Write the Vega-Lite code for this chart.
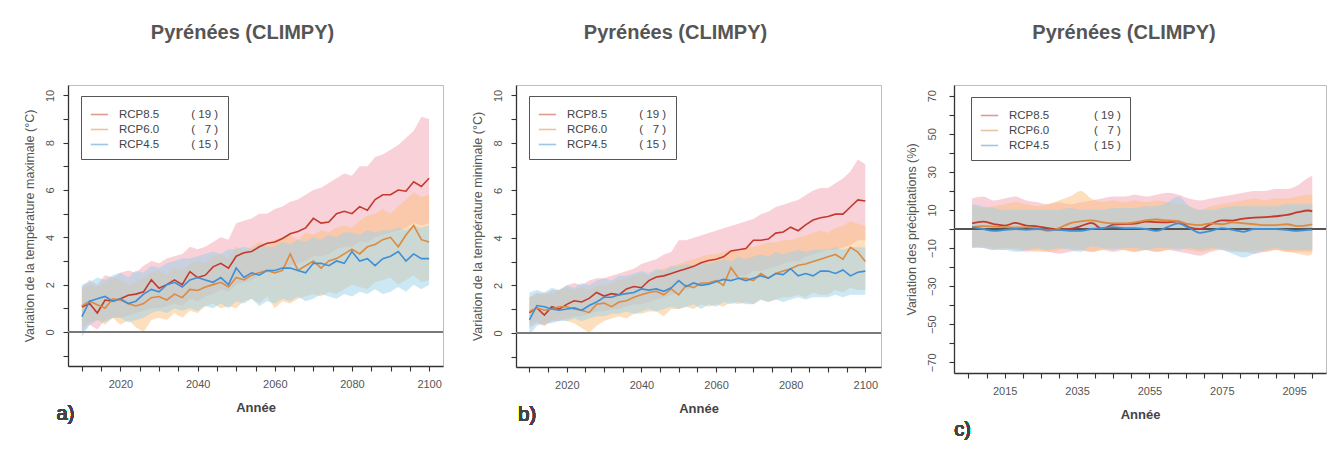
{
  "$schema": "https://vega.github.io/schema/vega-lite/v6.json",
  "background": "white",
  "padding": {"left": 22, "top": 22, "right": 5, "bottom": 5},
  "spacing": 73,
  "bounds": "flush",
  "resolve": {"scale": {"color": "independent", "fill": "independent"}, "legend": {"color": "independent", "fill": "independent"}},
  "config": {
    "font": "Liberation Sans",
    "view": {"stroke": "#bdbdbd", "strokeWidth": 1},
    "axis": {"grid": false, "tickCount": 100, "domainColor": "#333", "domainWidth": 1.3, "tickColor": "#333", "tickWidth": 1.1, "tickSize": 5, "labelColor": "#555", "labelFontSize": 11, "labelFont": "Liberation Sans", "titleColor": "#555", "titleFont": "Liberation Sans", "labelOverlap": false, "labelFlush": false},
    "axisX": {"labelPadding": 7, "titleFontSize": 13, "titleFontWeight": "bold", "titleColor": "#444", "titlePadding": 12},
    "axisY": {"titleFontSize": 12.5, "titleFontWeight": "normal", "titlePadding": 8},
    "title": {"fontSize": 20, "fontWeight": "bold", "color": "#555", "anchor": "middle", "frame": "group", "offset": 42},
    "legend": {"strokeColor": "#555", "fillColor": "white", "padding": 9, "symbolType": "stroke", "symbolSize": 300, "symbolStrokeWidth": 1.6, "labelFontSize": 11.5, "labelColor": "#444", "rowPadding": -2, "labelOffset": 10, "labelLimit": 300}
  },
  "datasets": {
    "a": [
      {"year":2010,"s":"RCP8.5","m":1.05,"lo":0.0,"hi":1.9},{"year":2012,"s":"RCP8.5","m":1.2,"lo":0.3,"hi":2.2},{"year":2014,"s":"RCP8.5","m":0.8,"lo":0.1,"hi":2.0},{"year":2016,"s":"RCP8.5","m":1.35,"lo":0.5,"hi":2.4},{"year":2018,"s":"RCP8.5","m":1.3,"lo":0.6,"hi":2.3},{"year":2020,"s":"RCP8.5","m":1.4,"lo":0.6,"hi":2.5},{"year":2022,"s":"RCP8.5","m":1.55,"lo":0.7,"hi":2.6},{"year":2024,"s":"RCP8.5","m":1.6,"lo":0.8,"hi":2.5},{"year":2026,"s":"RCP8.5","m":1.7,"lo":0.9,"hi":2.8},{"year":2028,"s":"RCP8.5","m":2.2,"lo":1.0,"hi":3.0},{"year":2030,"s":"RCP8.5","m":1.85,"lo":1.0,"hi":2.9},{"year":2032,"s":"RCP8.5","m":2.0,"lo":1.1,"hi":3.1},{"year":2034,"s":"RCP8.5","m":2.2,"lo":1.2,"hi":3.2},{"year":2036,"s":"RCP8.5","m":2.0,"lo":1.1,"hi":3.3},{"year":2038,"s":"RCP8.5","m":2.55,"lo":1.4,"hi":3.6},{"year":2040,"s":"RCP8.5","m":2.3,"lo":1.3,"hi":3.5},{"year":2042,"s":"RCP8.5","m":2.4,"lo":1.5,"hi":3.6},{"year":2044,"s":"RCP8.5","m":2.75,"lo":1.6,"hi":3.8},{"year":2046,"s":"RCP8.5","m":2.9,"lo":1.8,"hi":4.0},{"year":2048,"s":"RCP8.5","m":2.7,"lo":1.7,"hi":3.9},{"year":2050,"s":"RCP8.5","m":3.2,"lo":2.0,"hi":4.6},{"year":2052,"s":"RCP8.5","m":3.35,"lo":2.1,"hi":4.7},{"year":2054,"s":"RCP8.5","m":3.4,"lo":2.2,"hi":4.8},{"year":2056,"s":"RCP8.5","m":3.6,"lo":2.4,"hi":5.0},{"year":2058,"s":"RCP8.5","m":3.75,"lo":2.5,"hi":5.0},{"year":2060,"s":"RCP8.5","m":3.8,"lo":2.6,"hi":5.2},{"year":2062,"s":"RCP8.5","m":3.95,"lo":2.6,"hi":5.3},{"year":2064,"s":"RCP8.5","m":4.15,"lo":2.8,"hi":5.5},{"year":2066,"s":"RCP8.5","m":4.25,"lo":2.9,"hi":5.6},{"year":2068,"s":"RCP8.5","m":4.4,"lo":3.0,"hi":5.8},{"year":2070,"s":"RCP8.5","m":4.8,"lo":3.2,"hi":6.0},{"year":2072,"s":"RCP8.5","m":4.6,"lo":3.2,"hi":6.1},{"year":2074,"s":"RCP8.5","m":4.65,"lo":3.3,"hi":6.3},{"year":2076,"s":"RCP8.5","m":5.0,"lo":3.5,"hi":6.5},{"year":2078,"s":"RCP8.5","m":5.1,"lo":3.6,"hi":6.7},{"year":2080,"s":"RCP8.5","m":5.0,"lo":3.6,"hi":6.6},{"year":2082,"s":"RCP8.5","m":5.3,"lo":3.8,"hi":7.0},{"year":2084,"s":"RCP8.5","m":5.15,"lo":3.8,"hi":7.0},{"year":2086,"s":"RCP8.5","m":5.6,"lo":4.0,"hi":7.4},{"year":2088,"s":"RCP8.5","m":5.8,"lo":4.1,"hi":7.5},{"year":2090,"s":"RCP8.5","m":5.8,"lo":4.2,"hi":7.7},{"year":2092,"s":"RCP8.5","m":6.0,"lo":4.3,"hi":7.9},{"year":2094,"s":"RCP8.5","m":5.95,"lo":4.4,"hi":8.2},{"year":2096,"s":"RCP8.5","m":6.35,"lo":4.6,"hi":8.5},{"year":2098,"s":"RCP8.5","m":6.15,"lo":4.5,"hi":9.1},{"year":2100,"s":"RCP8.5","m":6.5,"lo":4.6,"hi":9.0},
      {"year":2010,"s":"RCP6.0","m":1.1,"lo":0.2,"hi":1.8},{"year":2012,"s":"RCP6.0","m":1.3,"lo":0.4,"hi":2.0},{"year":2014,"s":"RCP6.0","m":1.15,"lo":0.5,"hi":1.9},{"year":2016,"s":"RCP6.0","m":1.0,"lo":0.3,"hi":2.1},{"year":2018,"s":"RCP6.0","m":1.4,"lo":0.6,"hi":2.3},{"year":2020,"s":"RCP6.0","m":1.35,"lo":0.3,"hi":2.2},{"year":2022,"s":"RCP6.0","m":1.2,"lo":0.5,"hi":2.0},{"year":2024,"s":"RCP6.0","m":1.1,"lo":0.2,"hi":2.1},{"year":2026,"s":"RCP6.0","m":1.2,"lo":0.0,"hi":2.3},{"year":2028,"s":"RCP6.0","m":1.45,"lo":0.5,"hi":2.5},{"year":2030,"s":"RCP6.0","m":1.5,"lo":0.6,"hi":2.6},{"year":2032,"s":"RCP6.0","m":1.35,"lo":0.5,"hi":2.4},{"year":2034,"s":"RCP6.0","m":1.6,"lo":0.8,"hi":2.7},{"year":2036,"s":"RCP6.0","m":1.45,"lo":0.6,"hi":2.6},{"year":2038,"s":"RCP6.0","m":1.8,"lo":0.9,"hi":2.9},{"year":2040,"s":"RCP6.0","m":1.75,"lo":0.8,"hi":3.0},{"year":2042,"s":"RCP6.0","m":1.9,"lo":1.1,"hi":2.9},{"year":2044,"s":"RCP6.0","m":2.0,"lo":1.2,"hi":3.2},{"year":2046,"s":"RCP6.0","m":2.1,"lo":1.0,"hi":3.3},{"year":2048,"s":"RCP6.0","m":1.9,"lo":1.1,"hi":3.1},{"year":2050,"s":"RCP6.0","m":2.3,"lo":1.0,"hi":3.6},{"year":2052,"s":"RCP6.0","m":2.2,"lo":1.3,"hi":3.4},{"year":2054,"s":"RCP6.0","m":2.4,"lo":1.4,"hi":3.6},{"year":2056,"s":"RCP6.0","m":2.5,"lo":1.2,"hi":3.8},{"year":2058,"s":"RCP6.0","m":2.6,"lo":1.5,"hi":3.7},{"year":2060,"s":"RCP6.0","m":2.5,"lo":1.0,"hi":3.9},{"year":2062,"s":"RCP6.0","m":2.6,"lo":1.3,"hi":4.0},{"year":2064,"s":"RCP6.0","m":3.3,"lo":1.2,"hi":4.1},{"year":2066,"s":"RCP6.0","m":2.6,"lo":1.4,"hi":3.9},{"year":2068,"s":"RCP6.0","m":2.8,"lo":1.5,"hi":4.2},{"year":2070,"s":"RCP6.0","m":3.0,"lo":1.6,"hi":4.1},{"year":2072,"s":"RCP6.0","m":2.7,"lo":1.5,"hi":4.3},{"year":2074,"s":"RCP6.0","m":3.0,"lo":1.7,"hi":4.2},{"year":2076,"s":"RCP6.0","m":3.1,"lo":1.6,"hi":4.4},{"year":2078,"s":"RCP6.0","m":3.3,"lo":1.8,"hi":4.5},{"year":2080,"s":"RCP6.0","m":3.5,"lo":2.0,"hi":4.4},{"year":2082,"s":"RCP6.0","m":3.3,"lo":1.9,"hi":4.7},{"year":2084,"s":"RCP6.0","m":3.6,"lo":1.8,"hi":4.9},{"year":2086,"s":"RCP6.0","m":3.7,"lo":2.1,"hi":5.0},{"year":2088,"s":"RCP6.0","m":3.9,"lo":2.2,"hi":5.2},{"year":2090,"s":"RCP6.0","m":4.0,"lo":2.3,"hi":5.0},{"year":2092,"s":"RCP6.0","m":3.6,"lo":2.0,"hi":5.3},{"year":2094,"s":"RCP6.0","m":4.1,"lo":2.2,"hi":5.6},{"year":2096,"s":"RCP6.0","m":4.5,"lo":2.4,"hi":5.9},{"year":2098,"s":"RCP6.0","m":3.9,"lo":2.1,"hi":5.7},{"year":2100,"s":"RCP6.0","m":3.8,"lo":2.2,"hi":5.8},
      {"year":2010,"s":"RCP4.5","m":0.65,"lo":-0.2,"hi":2.0},{"year":2012,"s":"RCP4.5","m":1.3,"lo":0.3,"hi":2.1},{"year":2014,"s":"RCP4.5","m":1.4,"lo":0.5,"hi":2.3},{"year":2016,"s":"RCP4.5","m":1.5,"lo":0.4,"hi":2.2},{"year":2018,"s":"RCP4.5","m":1.3,"lo":0.6,"hi":2.4},{"year":2020,"s":"RCP4.5","m":1.4,"lo":0.6,"hi":2.5},{"year":2022,"s":"RCP4.5","m":1.2,"lo":0.4,"hi":2.3},{"year":2024,"s":"RCP4.5","m":1.3,"lo":0.5,"hi":2.6},{"year":2026,"s":"RCP4.5","m":1.6,"lo":0.6,"hi":2.5},{"year":2028,"s":"RCP4.5","m":1.8,"lo":0.8,"hi":2.8},{"year":2030,"s":"RCP4.5","m":1.7,"lo":0.9,"hi":2.7},{"year":2032,"s":"RCP4.5","m":2.0,"lo":0.8,"hi":2.9},{"year":2034,"s":"RCP4.5","m":2.1,"lo":1.0,"hi":3.0},{"year":2036,"s":"RCP4.5","m":1.9,"lo":0.9,"hi":3.1},{"year":2038,"s":"RCP4.5","m":2.2,"lo":1.0,"hi":3.1},{"year":2040,"s":"RCP4.5","m":2.3,"lo":0.9,"hi":3.2},{"year":2042,"s":"RCP4.5","m":2.2,"lo":1.1,"hi":3.3},{"year":2044,"s":"RCP4.5","m":2.1,"lo":1.0,"hi":3.4},{"year":2046,"s":"RCP4.5","m":2.3,"lo":1.2,"hi":3.3},{"year":2048,"s":"RCP4.5","m":2.0,"lo":1.0,"hi":3.5},{"year":2050,"s":"RCP4.5","m":2.7,"lo":1.3,"hi":3.5},{"year":2052,"s":"RCP4.5","m":2.3,"lo":1.2,"hi":3.6},{"year":2054,"s":"RCP4.5","m":2.5,"lo":1.4,"hi":3.5},{"year":2056,"s":"RCP4.5","m":2.4,"lo":1.1,"hi":3.7},{"year":2058,"s":"RCP4.5","m":2.6,"lo":1.3,"hi":3.6},{"year":2060,"s":"RCP4.5","m":2.6,"lo":1.2,"hi":3.6},{"year":2062,"s":"RCP4.5","m":2.7,"lo":1.4,"hi":3.8},{"year":2064,"s":"RCP4.5","m":2.7,"lo":1.3,"hi":3.7},{"year":2066,"s":"RCP4.5","m":2.6,"lo":1.5,"hi":3.9},{"year":2068,"s":"RCP4.5","m":2.5,"lo":1.3,"hi":3.8},{"year":2070,"s":"RCP4.5","m":2.9,"lo":1.4,"hi":4.0},{"year":2072,"s":"RCP4.5","m":2.9,"lo":1.6,"hi":3.9},{"year":2074,"s":"RCP4.5","m":2.8,"lo":1.5,"hi":4.1},{"year":2076,"s":"RCP4.5","m":3.0,"lo":1.4,"hi":4.0},{"year":2078,"s":"RCP4.5","m":2.9,"lo":1.6,"hi":4.2},{"year":2080,"s":"RCP4.5","m":3.4,"lo":1.5,"hi":4.2},{"year":2082,"s":"RCP4.5","m":3.0,"lo":1.7,"hi":4.1},{"year":2084,"s":"RCP4.5","m":3.1,"lo":1.6,"hi":4.3},{"year":2086,"s":"RCP4.5","m":2.8,"lo":1.8,"hi":4.2},{"year":2088,"s":"RCP4.5","m":3.1,"lo":1.6,"hi":4.3},{"year":2090,"s":"RCP4.5","m":3.2,"lo":1.7,"hi":4.3},{"year":2092,"s":"RCP4.5","m":3.4,"lo":1.9,"hi":4.4},{"year":2094,"s":"RCP4.5","m":3.0,"lo":1.7,"hi":4.3},{"year":2096,"s":"RCP4.5","m":3.3,"lo":2.0,"hi":4.5},{"year":2098,"s":"RCP4.5","m":3.1,"lo":1.8,"hi":4.4},{"year":2100,"s":"RCP4.5","m":3.1,"lo":2.0,"hi":4.5}
    ],
    "b": [
      {"year":2010,"s":"RCP8.5","m":0.85,"lo":0.2,"hi":1.5},{"year":2012,"s":"RCP8.5","m":1.05,"lo":0.4,"hi":1.7},{"year":2014,"s":"RCP8.5","m":0.75,"lo":0.3,"hi":1.6},{"year":2016,"s":"RCP8.5","m":1.1,"lo":0.5,"hi":1.8},{"year":2018,"s":"RCP8.5","m":1.0,"lo":0.5,"hi":1.8},{"year":2020,"s":"RCP8.5","m":1.2,"lo":0.6,"hi":2.0},{"year":2022,"s":"RCP8.5","m":1.35,"lo":0.7,"hi":2.1},{"year":2024,"s":"RCP8.5","m":1.3,"lo":0.7,"hi":2.0},{"year":2026,"s":"RCP8.5","m":1.45,"lo":0.8,"hi":2.2},{"year":2028,"s":"RCP8.5","m":1.7,"lo":0.9,"hi":2.3},{"year":2030,"s":"RCP8.5","m":1.55,"lo":0.9,"hi":2.3},{"year":2032,"s":"RCP8.5","m":1.65,"lo":1.0,"hi":2.4},{"year":2034,"s":"RCP8.5","m":1.6,"lo":1.0,"hi":2.5},{"year":2036,"s":"RCP8.5","m":1.85,"lo":1.1,"hi":2.6},{"year":2038,"s":"RCP8.5","m":1.95,"lo":1.2,"hi":2.7},{"year":2040,"s":"RCP8.5","m":1.9,"lo":1.2,"hi":2.9},{"year":2042,"s":"RCP8.5","m":2.2,"lo":1.3,"hi":3.0},{"year":2044,"s":"RCP8.5","m":2.35,"lo":1.4,"hi":3.1},{"year":2046,"s":"RCP8.5","m":2.4,"lo":1.5,"hi":3.3},{"year":2048,"s":"RCP8.5","m":2.5,"lo":1.6,"hi":3.4},{"year":2050,"s":"RCP8.5","m":2.6,"lo":1.7,"hi":3.9},{"year":2052,"s":"RCP8.5","m":2.7,"lo":1.8,"hi":3.9},{"year":2054,"s":"RCP8.5","m":2.8,"lo":1.9,"hi":4.0},{"year":2056,"s":"RCP8.5","m":2.95,"lo":2.0,"hi":4.1},{"year":2058,"s":"RCP8.5","m":3.05,"lo":2.0,"hi":4.2},{"year":2060,"s":"RCP8.5","m":3.1,"lo":2.1,"hi":4.3},{"year":2062,"s":"RCP8.5","m":3.2,"lo":2.2,"hi":4.4},{"year":2064,"s":"RCP8.5","m":3.45,"lo":2.3,"hi":4.5},{"year":2066,"s":"RCP8.5","m":3.5,"lo":2.4,"hi":4.6},{"year":2068,"s":"RCP8.5","m":3.55,"lo":2.4,"hi":4.7},{"year":2070,"s":"RCP8.5","m":3.9,"lo":2.6,"hi":4.8},{"year":2072,"s":"RCP8.5","m":3.9,"lo":2.6,"hi":5.0},{"year":2074,"s":"RCP8.5","m":3.95,"lo":2.7,"hi":5.1},{"year":2076,"s":"RCP8.5","m":4.2,"lo":2.8,"hi":5.3},{"year":2078,"s":"RCP8.5","m":4.25,"lo":2.9,"hi":5.4},{"year":2080,"s":"RCP8.5","m":4.45,"lo":3.0,"hi":5.5},{"year":2082,"s":"RCP8.5","m":4.3,"lo":3.0,"hi":5.6},{"year":2084,"s":"RCP8.5","m":4.55,"lo":3.2,"hi":5.8},{"year":2086,"s":"RCP8.5","m":4.75,"lo":3.3,"hi":6.0},{"year":2088,"s":"RCP8.5","m":4.85,"lo":3.4,"hi":6.1},{"year":2090,"s":"RCP8.5","m":4.9,"lo":3.5,"hi":6.1},{"year":2092,"s":"RCP8.5","m":5.0,"lo":3.5,"hi":6.3},{"year":2094,"s":"RCP8.5","m":5.0,"lo":3.6,"hi":6.5},{"year":2096,"s":"RCP8.5","m":5.3,"lo":3.7,"hi":6.8},{"year":2098,"s":"RCP8.5","m":5.6,"lo":3.9,"hi":7.3},{"year":2100,"s":"RCP8.5","m":5.55,"lo":3.9,"hi":7.1},
      {"year":2010,"s":"RCP6.0","m":0.9,"lo":0.4,"hi":1.5},{"year":2012,"s":"RCP6.0","m":1.05,"lo":0.5,"hi":1.6},{"year":2014,"s":"RCP6.0","m":0.95,"lo":0.3,"hi":1.7},{"year":2016,"s":"RCP6.0","m":1.0,"lo":0.5,"hi":1.6},{"year":2018,"s":"RCP6.0","m":1.1,"lo":0.6,"hi":1.8},{"year":2020,"s":"RCP6.0","m":1.1,"lo":0.5,"hi":1.9},{"year":2022,"s":"RCP6.0","m":1.0,"lo":0.4,"hi":1.8},{"year":2024,"s":"RCP6.0","m":0.95,"lo":0.2,"hi":1.9},{"year":2026,"s":"RCP6.0","m":0.85,"lo":0.0,"hi":1.8},{"year":2028,"s":"RCP6.0","m":1.2,"lo":0.3,"hi":2.0},{"year":2030,"s":"RCP6.0","m":1.25,"lo":0.5,"hi":2.0},{"year":2032,"s":"RCP6.0","m":1.1,"lo":0.6,"hi":2.1},{"year":2034,"s":"RCP6.0","m":1.3,"lo":0.7,"hi":2.2},{"year":2036,"s":"RCP6.0","m":1.35,"lo":0.6,"hi":2.3},{"year":2038,"s":"RCP6.0","m":1.5,"lo":0.8,"hi":2.4},{"year":2040,"s":"RCP6.0","m":1.6,"lo":0.8,"hi":2.5},{"year":2042,"s":"RCP6.0","m":1.7,"lo":0.9,"hi":2.4},{"year":2044,"s":"RCP6.0","m":1.75,"lo":0.9,"hi":2.6},{"year":2046,"s":"RCP6.0","m":1.6,"lo":0.7,"hi":2.7},{"year":2048,"s":"RCP6.0","m":1.85,"lo":1.0,"hi":2.8},{"year":2050,"s":"RCP6.0","m":1.6,"lo":1.0,"hi":2.9},{"year":2052,"s":"RCP6.0","m":2.0,"lo":1.1,"hi":3.0},{"year":2054,"s":"RCP6.0","m":1.9,"lo":1.0,"hi":3.1},{"year":2056,"s":"RCP6.0","m":2.1,"lo":1.2,"hi":3.2},{"year":2058,"s":"RCP6.0","m":2.1,"lo":1.1,"hi":3.3},{"year":2060,"s":"RCP6.0","m":2.2,"lo":1.2,"hi":3.3},{"year":2062,"s":"RCP6.0","m":2.0,"lo":1.1,"hi":3.4},{"year":2064,"s":"RCP6.0","m":2.75,"lo":1.3,"hi":3.5},{"year":2066,"s":"RCP6.0","m":2.3,"lo":1.2,"hi":3.4},{"year":2068,"s":"RCP6.0","m":2.3,"lo":1.3,"hi":3.6},{"year":2070,"s":"RCP6.0","m":2.2,"lo":1.2,"hi":3.6},{"year":2072,"s":"RCP6.0","m":2.5,"lo":1.4,"hi":3.7},{"year":2074,"s":"RCP6.0","m":2.3,"lo":1.3,"hi":3.8},{"year":2076,"s":"RCP6.0","m":2.5,"lo":1.4,"hi":3.8},{"year":2078,"s":"RCP6.0","m":2.6,"lo":1.5,"hi":3.9},{"year":2080,"s":"RCP6.0","m":2.7,"lo":1.5,"hi":3.9},{"year":2082,"s":"RCP6.0","m":2.85,"lo":1.6,"hi":4.0},{"year":2084,"s":"RCP6.0","m":2.9,"lo":1.5,"hi":4.1},{"year":2086,"s":"RCP6.0","m":3.0,"lo":1.7,"hi":4.2},{"year":2088,"s":"RCP6.0","m":3.1,"lo":1.6,"hi":4.3},{"year":2090,"s":"RCP6.0","m":3.2,"lo":1.6,"hi":4.2},{"year":2092,"s":"RCP6.0","m":3.3,"lo":1.8,"hi":4.4},{"year":2094,"s":"RCP6.0","m":3.1,"lo":1.7,"hi":4.5},{"year":2096,"s":"RCP6.0","m":3.6,"lo":1.9,"hi":4.7},{"year":2098,"s":"RCP6.0","m":3.4,"lo":1.8,"hi":4.6},{"year":2100,"s":"RCP6.0","m":3.0,"lo":1.8,"hi":4.5},
      {"year":2010,"s":"RCP4.5","m":0.55,"lo":-0.1,"hi":1.7},{"year":2012,"s":"RCP4.5","m":1.15,"lo":0.3,"hi":1.8},{"year":2014,"s":"RCP4.5","m":1.1,"lo":0.4,"hi":1.7},{"year":2016,"s":"RCP4.5","m":1.0,"lo":0.4,"hi":1.9},{"year":2018,"s":"RCP4.5","m":0.95,"lo":0.5,"hi":1.8},{"year":2020,"s":"RCP4.5","m":1.0,"lo":0.5,"hi":2.0},{"year":2022,"s":"RCP4.5","m":1.05,"lo":0.6,"hi":1.9},{"year":2024,"s":"RCP4.5","m":0.95,"lo":0.5,"hi":2.1},{"year":2026,"s":"RCP4.5","m":1.15,"lo":0.6,"hi":2.0},{"year":2028,"s":"RCP4.5","m":1.3,"lo":0.7,"hi":2.2},{"year":2030,"s":"RCP4.5","m":1.5,"lo":0.7,"hi":2.3},{"year":2032,"s":"RCP4.5","m":1.5,"lo":0.8,"hi":2.2},{"year":2034,"s":"RCP4.5","m":1.6,"lo":0.8,"hi":2.4},{"year":2036,"s":"RCP4.5","m":1.65,"lo":0.9,"hi":2.4},{"year":2038,"s":"RCP4.5","m":1.7,"lo":0.8,"hi":2.5},{"year":2040,"s":"RCP4.5","m":1.85,"lo":0.9,"hi":2.6},{"year":2042,"s":"RCP4.5","m":1.8,"lo":1.0,"hi":2.5},{"year":2044,"s":"RCP4.5","m":1.85,"lo":0.9,"hi":2.7},{"year":2046,"s":"RCP4.5","m":1.75,"lo":1.0,"hi":2.6},{"year":2048,"s":"RCP4.5","m":1.9,"lo":1.1,"hi":2.8},{"year":2050,"s":"RCP4.5","m":2.2,"lo":1.0,"hi":2.8},{"year":2052,"s":"RCP4.5","m":1.95,"lo":1.1,"hi":2.9},{"year":2054,"s":"RCP4.5","m":2.1,"lo":1.2,"hi":2.8},{"year":2056,"s":"RCP4.5","m":2.0,"lo":1.0,"hi":3.0},{"year":2058,"s":"RCP4.5","m":2.05,"lo":1.2,"hi":2.9},{"year":2060,"s":"RCP4.5","m":2.15,"lo":1.1,"hi":3.0},{"year":2062,"s":"RCP4.5","m":2.25,"lo":1.3,"hi":3.1},{"year":2064,"s":"RCP4.5","m":2.2,"lo":1.2,"hi":3.0},{"year":2066,"s":"RCP4.5","m":2.3,"lo":1.3,"hi":3.2},{"year":2068,"s":"RCP4.5","m":2.2,"lo":1.2,"hi":3.1},{"year":2070,"s":"RCP4.5","m":2.3,"lo":1.2,"hi":3.2},{"year":2072,"s":"RCP4.5","m":2.4,"lo":1.4,"hi":3.3},{"year":2074,"s":"RCP4.5","m":2.3,"lo":1.3,"hi":3.2},{"year":2076,"s":"RCP4.5","m":2.5,"lo":1.4,"hi":3.4},{"year":2078,"s":"RCP4.5","m":2.45,"lo":1.3,"hi":3.3},{"year":2080,"s":"RCP4.5","m":2.7,"lo":1.4,"hi":3.4},{"year":2082,"s":"RCP4.5","m":2.4,"lo":1.5,"hi":3.5},{"year":2084,"s":"RCP4.5","m":2.5,"lo":1.4,"hi":3.4},{"year":2086,"s":"RCP4.5","m":2.4,"lo":1.5,"hi":3.5},{"year":2088,"s":"RCP4.5","m":2.6,"lo":1.5,"hi":3.5},{"year":2090,"s":"RCP4.5","m":2.6,"lo":1.5,"hi":3.5},{"year":2092,"s":"RCP4.5","m":2.5,"lo":1.6,"hi":3.6},{"year":2094,"s":"RCP4.5","m":2.65,"lo":1.5,"hi":3.5},{"year":2096,"s":"RCP4.5","m":2.4,"lo":1.6,"hi":3.6},{"year":2098,"s":"RCP4.5","m":2.55,"lo":1.6,"hi":3.6},{"year":2100,"s":"RCP4.5","m":2.6,"lo":1.6,"hi":3.6}
    ],
    "c": [
      {"year":2006,"s":"RCP8.5","m":3.0,"lo":-9,"hi":16},{"year":2009,"s":"RCP8.5","m":3.9,"lo":-10,"hi":17},{"year":2012,"s":"RCP8.5","m":2.6,"lo":-11,"hi":15},{"year":2015,"s":"RCP8.5","m":1.8,"lo":-10,"hi":16},{"year":2018,"s":"RCP8.5","m":3.2,"lo":-11,"hi":17},{"year":2021,"s":"RCP8.5","m":1.8,"lo":-12,"hi":15},{"year":2024,"s":"RCP8.5","m":1.4,"lo":-11,"hi":14},{"year":2027,"s":"RCP8.5","m":0.5,"lo":-12,"hi":13},{"year":2030,"s":"RCP8.5","m":-0.3,"lo":-13,"hi":14},{"year":2033,"s":"RCP8.5","m":0.0,"lo":-12,"hi":13},{"year":2036,"s":"RCP8.5","m":1.5,"lo":-11,"hi":14},{"year":2039,"s":"RCP8.5","m":3.2,"lo":-12,"hi":15},{"year":2042,"s":"RCP8.5","m":0.0,"lo":-11,"hi":16},{"year":2045,"s":"RCP8.5","m":2.3,"lo":-12,"hi":17},{"year":2048,"s":"RCP8.5","m":2.6,"lo":-11,"hi":17},{"year":2051,"s":"RCP8.5","m":2.8,"lo":-12,"hi":18},{"year":2054,"s":"RCP8.5","m":3.9,"lo":-11,"hi":17},{"year":2057,"s":"RCP8.5","m":3.6,"lo":-12,"hi":18},{"year":2060,"s":"RCP8.5","m":3.5,"lo":-11,"hi":19},{"year":2063,"s":"RCP8.5","m":4.0,"lo":-12,"hi":18},{"year":2066,"s":"RCP8.5","m":0.9,"lo":-13,"hi":16},{"year":2069,"s":"RCP8.5","m":0.0,"lo":-14,"hi":15},{"year":2072,"s":"RCP8.5","m":2.6,"lo":-12,"hi":16},{"year":2075,"s":"RCP8.5","m":4.5,"lo":-11,"hi":17},{"year":2078,"s":"RCP8.5","m":4.4,"lo":-12,"hi":18},{"year":2081,"s":"RCP8.5","m":5.5,"lo":-12,"hi":19},{"year":2084,"s":"RCP8.5","m":6.0,"lo":-13,"hi":20},{"year":2087,"s":"RCP8.5","m":6.2,"lo":-12,"hi":20},{"year":2090,"s":"RCP8.5","m":6.7,"lo":-11,"hi":21},{"year":2093,"s":"RCP8.5","m":7.4,"lo":-12,"hi":21},{"year":2096,"s":"RCP8.5","m":8.8,"lo":-12,"hi":23},{"year":2099,"s":"RCP8.5","m":9.7,"lo":-12,"hi":27},{"year":2100,"s":"RCP8.5","m":9.3,"lo":-12,"hi":28},
      {"year":2006,"s":"RCP6.0","m":1.0,"lo":-10,"hi":13},{"year":2009,"s":"RCP6.0","m":1.5,"lo":-9,"hi":11},{"year":2012,"s":"RCP6.0","m":1.2,"lo":-10,"hi":12},{"year":2015,"s":"RCP6.0","m":1.0,"lo":-11,"hi":13},{"year":2018,"s":"RCP6.0","m":0.8,"lo":-10,"hi":14},{"year":2021,"s":"RCP6.0","m":1.0,"lo":-11,"hi":13},{"year":2024,"s":"RCP6.0","m":0.5,"lo":-12,"hi":12},{"year":2027,"s":"RCP6.0","m":-1.0,"lo":-12,"hi":13},{"year":2030,"s":"RCP6.0","m":0.5,"lo":-11,"hi":15},{"year":2033,"s":"RCP6.0","m":3.0,"lo":-10,"hi":17},{"year":2036,"s":"RCP6.0","m":4.0,"lo":-11,"hi":20},{"year":2039,"s":"RCP6.0","m":4.5,"lo":-12,"hi":16},{"year":2042,"s":"RCP6.0","m":3.5,"lo":-11,"hi":14},{"year":2045,"s":"RCP6.0","m":3.0,"lo":-10,"hi":15},{"year":2048,"s":"RCP6.0","m":3.0,"lo":-11,"hi":14},{"year":2051,"s":"RCP6.0","m":3.5,"lo":-12,"hi":15},{"year":2054,"s":"RCP6.0","m":4.5,"lo":-11,"hi":14},{"year":2057,"s":"RCP6.0","m":5.0,"lo":-12,"hi":15},{"year":2060,"s":"RCP6.0","m":4.5,"lo":-11,"hi":14},{"year":2063,"s":"RCP6.0","m":4.0,"lo":-10,"hi":13},{"year":2066,"s":"RCP6.0","m":2.5,"lo":-11,"hi":12},{"year":2069,"s":"RCP6.0","m":2.0,"lo":-12,"hi":10},{"year":2072,"s":"RCP6.0","m":3.0,"lo":-11,"hi":12},{"year":2075,"s":"RCP6.0","m":2.5,"lo":-10,"hi":13},{"year":2078,"s":"RCP6.0","m":3.5,"lo":-11,"hi":14},{"year":2081,"s":"RCP6.0","m":3.0,"lo":-12,"hi":15},{"year":2084,"s":"RCP6.0","m":2.5,"lo":-11,"hi":16},{"year":2087,"s":"RCP6.0","m":2.0,"lo":-12,"hi":15},{"year":2090,"s":"RCP6.0","m":2.0,"lo":-11,"hi":16},{"year":2093,"s":"RCP6.0","m":2.5,"lo":-12,"hi":16},{"year":2096,"s":"RCP6.0","m":1.5,"lo":-13,"hi":17},{"year":2099,"s":"RCP6.0","m":2.0,"lo":-14,"hi":18},{"year":2100,"s":"RCP6.0","m":2.5,"lo":-13,"hi":18},
      {"year":2006,"s":"RCP4.5","m":1.0,"lo":-10,"hi":13},{"year":2009,"s":"RCP4.5","m":0.0,"lo":-10,"hi":12},{"year":2012,"s":"RCP4.5","m":-1.0,"lo":-11,"hi":11},{"year":2015,"s":"RCP4.5","m":-0.5,"lo":-11,"hi":10},{"year":2018,"s":"RCP4.5","m":0.0,"lo":-12,"hi":10},{"year":2021,"s":"RCP4.5","m":-0.5,"lo":-11,"hi":10},{"year":2024,"s":"RCP4.5","m":0.0,"lo":-10,"hi":10},{"year":2027,"s":"RCP4.5","m":-0.5,"lo":-11,"hi":10},{"year":2030,"s":"RCP4.5","m":-0.5,"lo":-10,"hi":10},{"year":2033,"s":"RCP4.5","m":-1.0,"lo":-11,"hi":11},{"year":2036,"s":"RCP4.5","m":-1.0,"lo":-12,"hi":10},{"year":2039,"s":"RCP4.5","m":0.0,"lo":-9,"hi":10},{"year":2042,"s":"RCP4.5","m":0.5,"lo":-10,"hi":10},{"year":2045,"s":"RCP4.5","m":1.0,"lo":-11,"hi":11},{"year":2048,"s":"RCP4.5","m":0.5,"lo":-10,"hi":11},{"year":2051,"s":"RCP4.5","m":0.5,"lo":-10,"hi":11},{"year":2054,"s":"RCP4.5","m":0.0,"lo":-11,"hi":12},{"year":2057,"s":"RCP4.5","m":-1.0,"lo":-10,"hi":12},{"year":2060,"s":"RCP4.5","m":1.0,"lo":-10,"hi":14},{"year":2063,"s":"RCP4.5","m":3.0,"lo":-11,"hi":17},{"year":2066,"s":"RCP4.5","m":0.5,"lo":-10,"hi":12},{"year":2069,"s":"RCP4.5","m":-2.0,"lo":-11,"hi":10},{"year":2072,"s":"RCP4.5","m":-1.0,"lo":-10,"hi":10},{"year":2075,"s":"RCP4.5","m":0.5,"lo":-11,"hi":11},{"year":2078,"s":"RCP4.5","m":-0.5,"lo":-13,"hi":12},{"year":2081,"s":"RCP4.5","m":-1.5,"lo":-15,"hi":12},{"year":2084,"s":"RCP4.5","m":0.0,"lo":-13,"hi":12},{"year":2087,"s":"RCP4.5","m":0.0,"lo":-11,"hi":12},{"year":2090,"s":"RCP4.5","m":0.0,"lo":-10,"hi":12},{"year":2093,"s":"RCP4.5","m":-0.5,"lo":-11,"hi":13},{"year":2096,"s":"RCP4.5","m":-1.0,"lo":-11,"hi":13},{"year":2099,"s":"RCP4.5","m":-0.5,"lo":-11,"hi":13},{"year":2100,"s":"RCP4.5","m":-0.5,"lo":-11,"hi":13}
    ]
  },
  "hconcat": [
    {
      "width": 375, "height": 281,
      "title": {"text": "Pyrénées (CLIMPY)", "dx": -13},
      "data": {"name": "a"},
      "layer": [
        {
          "mark": {"type": "area", "opacity": 0.5},
          "encoding": {
            "x": {"field": "year", "type": "quantitative", "title": "Année", "scale": {"domain": [2006.4, 2103.6], "nice": false, "zero": false},
                  "axis": {"values": [2010,2015,2020,2025,2030,2035,2040,2045,2050,2055,2060,2065,2070,2075,2080,2085,2090,2095,2100], "tickCount": 100, "format": "d", "labelExpr": "datum.value % 20 == 0 ? datum.label : ''"}},
            "y": {"field": "lo", "type": "quantitative", "title": "Variation de la température maximale (°C)", "scale": {"domain": [-1.44, 10.44], "nice": false, "zero": false},
                  "axis": {"values": [-1,0,1,2,3,4,5,6,7,8,9,10], "tickCount": 100, "format": "d", "labelExpr": "datum.value % 2 == 0 ? datum.label : ''", "labelAngle": 270, "labelAlign": "center", "labelBaseline": "bottom", "labelPadding": 8}},
            "y2": {"field": "hi"},
            "fill": {"field": "s", "type": "nominal", "title": "bandes", "scale": {"domain": ["RCP8.5","RCP6.0","RCP4.5"], "range": ["#f3a3b2","#fbc07c","#9ad2ea"]}}
          }
        },
        {
          "mark": {"type": "rule", "color": "#7a7a7a", "strokeWidth": 1.4},
          "encoding": {"y": {"datum": 0, "type": "quantitative", "title": "Variation de la température maximale (°C)"}}
        },
        {
          "mark": {"type": "line", "strokeWidth": 1.6},
          "encoding": {
            "x": {"field": "year", "type": "quantitative", "title": "Année"},
            "y": {"field": "m", "type": "quantitative", "title": "Variation de la température maximale (°C)"},
            "color": {"field": "s", "type": "nominal", "title": "scénario", "scale": {"domain": ["RCP8.5","RCP6.0","RCP4.5"], "range": ["#c4392d","#dd8a3f","#3f8fd6"]},
              "legend": {"title": null, "orient": "none", "legendX": 13, "legendY": 11, "labelExpr": "datum.label == 'RCP8.5' ? 'RCP8.5\u00a0\u00a0\u00a0\u00a0\u00a0\u00a0\u00a0\u00a0\u00a0\u00a0(\u00a019\u00a0)' : datum.label == 'RCP6.0' ? 'RCP6.0\u00a0\u00a0\u00a0\u00a0\u00a0\u00a0\u00a0\u00a0\u00a0\u00a0(\u00a0\u00a0\u00a07\u00a0)' : 'RCP4.5\u00a0\u00a0\u00a0\u00a0\u00a0\u00a0\u00a0\u00a0\u00a0\u00a0(\u00a015\u00a0)'"}}
          }
        },
        {
          "mark": {"type": "text", "text": "a)", "fontSize": 20, "fontWeight": "normal", "color": "#444", "align": "center", "baseline": "middle"},
          "encoding": {"x": {"datum": 2005.75, "type": "quantitative", "title": "Année"}, "y": {"datum": -3.46, "type": "quantitative", "title": "Variation de la température maximale (°C)"}}
        }
      ]
    },
    {
      "width": 365, "height": 282,
      "title": {"text": "Pyrénées (CLIMPY)", "dx": -23},
      "data": {"name": "b"},
      "layer": [
        {
          "mark": {"type": "area", "opacity": 0.5},
          "encoding": {
            "x": {"field": "year", "type": "quantitative", "title": "Année", "scale": {"domain": [2006.4, 2104.2], "nice": false, "zero": false},
                  "axis": {"values": [2010,2015,2020,2025,2030,2035,2040,2045,2050,2055,2060,2065,2070,2075,2080,2085,2090,2095,2100], "tickCount": 100, "format": "d", "labelExpr": "datum.value % 20 == 0 ? datum.label : ''"}},
            "y": {"field": "lo", "type": "quantitative", "title": "Variation de la température minimale (°C)", "scale": {"domain": [-1.44, 10.44], "nice": false, "zero": false},
                  "axis": {"values": [-1,0,1,2,3,4,5,6,7,8,9,10], "tickCount": 100, "format": "d", "labelExpr": "datum.value % 2 == 0 ? datum.label : ''", "labelAngle": 270, "labelAlign": "center", "labelBaseline": "bottom", "labelPadding": 8}},
            "y2": {"field": "hi"},
            "fill": {"field": "s", "type": "nominal", "title": "bandes", "scale": {"domain": ["RCP8.5","RCP6.0","RCP4.5"], "range": ["#f3a3b2","#fbc07c","#9ad2ea"]}}
          }
        },
        {
          "mark": {"type": "rule", "color": "#7a7a7a", "strokeWidth": 1.4},
          "encoding": {"y": {"datum": 0, "type": "quantitative", "title": "Variation de la température minimale (°C)"}}
        },
        {
          "mark": {"type": "line", "strokeWidth": 1.6},
          "encoding": {
            "x": {"field": "year", "type": "quantitative", "title": "Année"},
            "y": {"field": "m", "type": "quantitative", "title": "Variation de la température minimale (°C)"},
            "color": {"field": "s", "type": "nominal", "title": "scénario", "scale": {"domain": ["RCP8.5","RCP6.0","RCP4.5"], "range": ["#c4392d","#dd8a3f","#3f8fd6"]},
              "legend": {"title": null, "orient": "none", "legendX": 13, "legendY": 11, "labelExpr": "datum.label == 'RCP8.5' ? 'RCP8.5\u00a0\u00a0\u00a0\u00a0\u00a0\u00a0\u00a0\u00a0\u00a0\u00a0(\u00a019\u00a0)' : datum.label == 'RCP6.0' ? 'RCP6.0\u00a0\u00a0\u00a0\u00a0\u00a0\u00a0\u00a0\u00a0\u00a0\u00a0(\u00a0\u00a0\u00a07\u00a0)' : 'RCP4.5\u00a0\u00a0\u00a0\u00a0\u00a0\u00a0\u00a0\u00a0\u00a0\u00a0(\u00a015\u00a0)'"}}
          }
        },
        {
          "mark": {"type": "text", "text": "b)", "fontSize": 20, "fontWeight": "normal", "color": "#444", "align": "center", "baseline": "middle"},
          "encoding": {"x": {"datum": 2009.4, "type": "quantitative", "title": "Année"}, "y": {"datum": -3.46, "type": "quantitative", "title": "Variation de la température minimale (°C)"}}
        }
      ]
    },
    {
      "width": 372, "height": 288,
      "title": {"text": "Pyrénées (CLIMPY)", "dx": -16},
      "data": {"name": "c"},
      "layer": [
        {
          "mark": {"type": "area", "opacity": 0.5, "interpolate": "monotone"},
          "encoding": {
            "x": {"field": "year", "type": "quantitative", "title": "Année", "scale": {"domain": [2001.0, 2103.8], "nice": false, "zero": false},
                  "axis": {"values": [2005,2010,2015,2020,2025,2030,2035,2040,2045,2050,2055,2060,2065,2070,2075,2080,2085,2090,2095,2100], "tickCount": 100, "format": "d", "labelExpr": "(datum.value - 2015) % 20 == 0 ? datum.label : ''"}},
            "y": {"field": "lo", "type": "quantitative", "title": "Variation des précipitations (%)", "scale": {"domain": [-75.6, 75.6], "nice": false, "zero": false},
                  "axis": {"values": [-70,-60,-50,-40,-30,-20,-10,0,10,20,30,40,50,60,70], "tickCount": 100, "format": "d", "labelExpr": "abs(datum.value) % 20 == 10 ? datum.label : ''", "labelAngle": 270, "labelAlign": "center", "labelBaseline": "bottom", "labelPadding": 12}},
            "y2": {"field": "hi"},
            "fill": {"field": "s", "type": "nominal", "title": "bandes", "scale": {"domain": ["RCP8.5","RCP6.0","RCP4.5"], "range": ["#f3a3b2","#fbc07c","#9ad2ea"]}}
          }
        },
        {
          "mark": {"type": "rule", "color": "#555", "strokeWidth": 1.4},
          "encoding": {"y": {"datum": 0, "type": "quantitative", "title": "Variation des précipitations (%)"}}
        },
        {
          "mark": {"type": "line", "strokeWidth": 1.8, "interpolate": "monotone"},
          "encoding": {
            "x": {"field": "year", "type": "quantitative", "title": "Année"},
            "y": {"field": "m", "type": "quantitative", "title": "Variation des précipitations (%)"},
            "color": {"field": "s", "type": "nominal", "title": "scénario", "scale": {"domain": ["RCP8.5","RCP6.0","RCP4.5"], "range": ["#c4392d","#dd8a3f","#3f8fd6"]},
              "legend": {"title": null, "orient": "none", "legendX": 17, "legendY": 12, "labelExpr": "datum.label == 'RCP8.5' ? 'RCP8.5\u00a0\u00a0\u00a0\u00a0\u00a0\u00a0\u00a0\u00a0\u00a0\u00a0\u00a0\u00a0\u00a0\u00a0(\u00a019\u00a0)' : datum.label == 'RCP6.0' ? 'RCP6.0\u00a0\u00a0\u00a0\u00a0\u00a0\u00a0\u00a0\u00a0\u00a0\u00a0\u00a0\u00a0\u00a0\u00a0(\u00a0\u00a0\u00a07\u00a0)' : 'RCP4.5\u00a0\u00a0\u00a0\u00a0\u00a0\u00a0\u00a0\u00a0\u00a0\u00a0\u00a0\u00a0\u00a0\u00a0(\u00a015\u00a0)'"}}
          }
        },
        {
          "mark": {"type": "text", "text": "c)", "fontSize": 20, "fontWeight": "normal", "color": "#444", "align": "center", "baseline": "middle"},
          "encoding": {"x": {"datum": 2003.4, "type": "quantitative", "title": "Année"}, "y": {"datum": -105.5, "type": "quantitative", "title": "Variation des précipitations (%)"}}
        }
      ]
    }
  ]
}
